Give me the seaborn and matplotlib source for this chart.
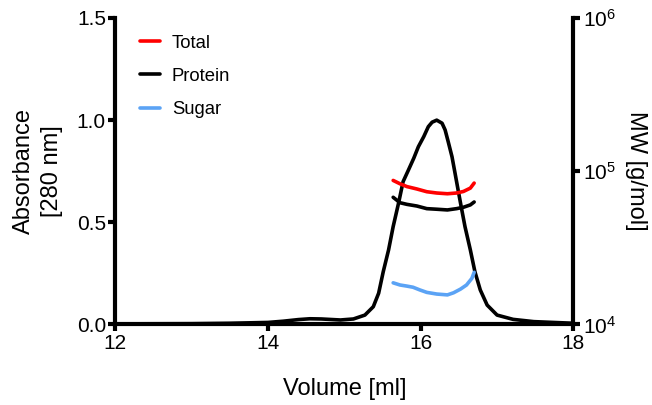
import numpy as np
import pandas as pd
import matplotlib
matplotlib.use("Agg")
import matplotlib.pyplot as plt
import seaborn as sns

# ==============================================================================
# DATA
# ==============================================================================
volume_abs = [12.0, 13.0, 13.5, 14.0, 14.2, 14.4, 14.55, 14.7, 14.9, 14.95, 15.12,
              15.27, 15.38, 15.45, 15.51, 15.58, 15.64, 15.71, 15.77, 15.84, 15.91,
              15.97, 16.04, 16.10, 16.15, 16.21, 16.28, 16.32, 16.36, 16.41, 16.45,
              16.49, 16.53, 16.58, 16.65, 16.71, 16.78, 16.87, 17.00, 17.21, 17.48, 18.0]
absorbance = [0.003, 0.004, 0.006, 0.010, 0.016, 0.024, 0.028, 0.027, 0.023, 0.022, 0.027,
              0.046, 0.087, 0.153, 0.258, 0.365, 0.479, 0.593, 0.699, 0.756, 0.814,
              0.870, 0.919, 0.968, 0.99, 1.0, 0.985, 0.952, 0.895, 0.821, 0.740,
              0.658, 0.577, 0.479, 0.365, 0.258, 0.169, 0.095, 0.046, 0.025, 0.014, 0.006]

vol_total = [15.64, 15.73, 15.82, 15.95, 16.08, 16.21, 16.35, 16.47, 16.56, 16.65, 16.70]
mw_total = [87100, 82800, 79400, 76600, 73500, 72100, 71300, 72100, 73800, 77600, 83700]

vol_protein = [15.64, 15.73, 15.82, 15.95, 16.08, 16.21, 16.35, 16.47, 16.56, 16.65, 16.70]
mw_protein = [67600, 62300, 60800, 59300, 57000, 56500, 55900, 57000, 58200, 60300, 63000]

vol_sugar = [15.64, 15.73, 15.82, 15.90, 15.99, 16.08, 16.21, 16.35, 16.43, 16.52,
             16.60, 16.67, 16.70]
mw_sugar = [18700, 18100, 17800, 17500, 16800, 16200, 15800, 15600, 16100, 17000,
            18100, 20000, 21900]

TOTAL_RED = '#FF0000'
PROTEIN_BLACK = '#000000'
SUGAR_BLUE = '#5BA3F5'

sns.set_style("ticks")
plt.rcParams['font.family'] = ['Liberation Sans', 'DejaVu Sans']
plt.rcParams['mathtext.fontset'] = 'custom'
plt.rcParams['mathtext.rm'] = 'Liberation Sans'
plt.rcParams.update({'text.color': 'black', 'axes.labelcolor': 'black',
                     'xtick.color': 'black', 'ytick.color': 'black',
                     'axes.edgecolor': 'black'})

fig = plt.figure(figsize=(6.52, 4.05), dpi=100)
ax = fig.add_axes([0.1764, 0.1988, 0.7032, 0.7568])
ax2 = ax.twinx()

# absorbance trace (left axis)
sns.lineplot(x=volume_abs, y=absorbance, ax=ax, color='black', linewidth=2.6)

# molar mass traces (right axis, log)
sns.lineplot(x=vol_total, y=mw_total, ax=ax2, color=TOTAL_RED, linewidth=2.6, label='Total')
sns.lineplot(x=vol_protein, y=mw_protein, ax=ax2, color=PROTEIN_BLACK, linewidth=2.6, label='Protein')
sns.lineplot(x=vol_sugar, y=mw_sugar, ax=ax2, color=SUGAR_BLUE, linewidth=2.6, label='Sugar')

ax.set_xlim(12, 18)
ax.set_ylim(0, 1.5)
ax.set_xticks([12, 14, 16, 18])
ax.set_yticks([0, 0.5, 1.0, 1.5])
ax.set_yticklabels(['0.0', '0.5', '1.0', '1.5'])
ax2.set_yscale('log')
ax2.set_ylim(1e4, 1e6)
ax2.set_yticks([1e4, 1e5, 1e6])
ax2.minorticks_off()

for a in (ax, ax2):
    for s in a.spines.values():
        s.set_linewidth(3.0)
        s.set_color('black')
    a.spines['top'].set_visible(False)
    a.tick_params(axis='both', which='major', length=5, width=3, direction='out',
                  labelsize=15, pad=1.5, color='black', labelcolor='black')
ax.spines['right'].set_visible(False)
ax2.spines['left'].set_visible(False)
ax2.spines['bottom'].set_visible(False)

ax.set_xlabel('Volume [ml]', fontsize=17, labelpad=18)
ax.set_ylabel('Absorbance\n[280 nm]', fontsize=17, labelpad=10, linespacing=1.35)
ax2.set_ylabel('MW [g/mol]', fontsize=17, rotation=270, va='bottom', labelpad=7)

ax2.legend(loc='upper left', bbox_to_anchor=(0.054, 0.945), frameon=False,
           fontsize=13.3, handlelength=1.08, handletextpad=0.65, labelspacing=0.87,
           borderaxespad=0, borderpad=0)
ax.grid(False)
ax2.grid(False)

fig.savefig('out.png', dpi=100)
